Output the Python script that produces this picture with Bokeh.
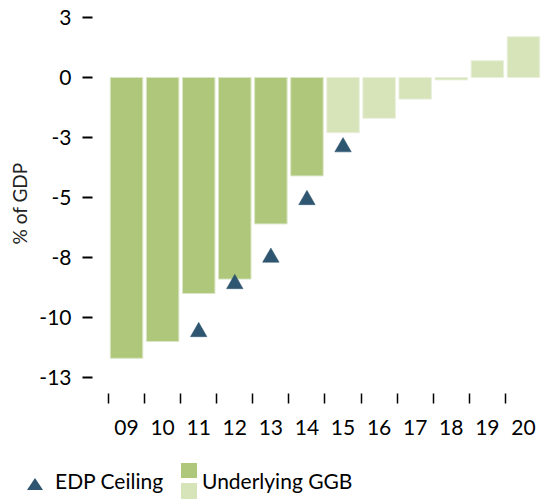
from bokeh.plotting import figure
from bokeh.models import Range1d, FixedTicker, ColumnDataSource, Div
from bokeh.layouts import column
from bokeh.embed import file_html
from bokeh.resources import INLINE

# ---- data ----
years = ["09", "10", "11", "12", "13", "14", "15", "16", "17", "18", "19", "20"]
ggb = [-11.7, -11.0, -9.0, -8.4, -6.1, -4.1, -2.3, -1.7, -0.9, -0.1, 0.7, 1.7]
ggb_outturn = [True, True, True, True, True, True, False, False, False, False, False, False]
edp_years = ["11", "12", "13", "14", "15"]
edp_ceiling = [-10.6, -8.6, -7.5, -5.1, -2.9]
y_ticks = [2.5, 0, -2.5, -5, -7.5, -10, -12.5]
y_tick_labels = ["3", "0", "-3", "-5", "-8", "-10", "-13"]
legend_labels = ["EDP Ceiling", "Underlying GGB"]

DARK = "#aec77a"
LIGHT = "#d7e3b9"
DARK_EDGE = "#dbe6c6"
LIGHT_EDGE = "#e9f0dc"
NAVY = "#2e5670"
FONT = "Lato"

xc = [i + 0.5 for i in range(len(years))]
src = ColumnDataSource(dict(
    x=xc, top=ggb,
    fill=[DARK if a else LIGHT for a in ggb_outturn],
    edge=[DARK_EDGE if a else LIGHT_EDGE for a in ggb_outturn],
))
edp_src = ColumnDataSource(dict(x=[years.index(y) + 0.5 for y in edp_years], y=edp_ceiling))

p = figure(width=541, height=443, output_backend="svg", toolbar_location=None,
           x_range=Range1d(-0.443, 12.0), y_range=Range1d(-13.167, 2.667),
           min_border_left=92, min_border_right=0, min_border_top=13, min_border_bottom=50)
p.outline_line_color = None
p.xgrid.visible = False
p.ygrid.visible = False

p.vbar(x="x", top="top", bottom=0, width=0.9, fill_color="fill", line_color="edge",
       line_width=1, source=src)
p.scatter(x="x", y="y", marker="triangle", size=16.5, fill_color=NAVY, line_color=NAVY,
          line_width=0.5, source=edp_src)

# y axis
p.yaxis.ticker = FixedTicker(ticks=y_ticks)
p.yaxis.major_label_overrides = {t: l for t, l in zip(y_ticks, y_tick_labels)}
p.yaxis.axis_line_color = None
p.yaxis.major_tick_in = 0
p.yaxis.major_tick_out = 10
p.yaxis.major_tick_line_width = 2
p.yaxis.major_tick_line_color = "black"
p.yaxis.minor_tick_line_color = None
p.yaxis.major_label_standoff = 11
p.yaxis.major_label_text_font = FONT
p.yaxis.major_label_text_font_size = "21px"
p.yaxis.major_label_text_color = "black"
p.yaxis.axis_label = "% of GDP"
p.yaxis.axis_label_text_font = FONT
p.yaxis.axis_label_text_font_style = "normal"
p.yaxis.axis_label_text_font_size = "19px"
p.yaxis.axis_label_text_color = "#222222"
p.yaxis.axis_label_standoff = 5

# x axis: labels at category centres, ticks at category boundaries
p.xaxis.ticker = FixedTicker(ticks=xc, minor_ticks=list(range(len(years))))
p.xaxis.major_label_overrides = {x: y for x, y in zip(xc, years)}
p.xaxis.axis_line_color = None
p.xaxis.major_tick_line_color = None
p.xaxis.major_tick_in = 0
p.xaxis.major_tick_out = 0
p.xaxis.minor_tick_in = 0
p.xaxis.minor_tick_out = 10
p.xaxis.minor_tick_line_color = "black"
p.xaxis.minor_tick_line_width = 1.5
p.xaxis.major_label_standoff = 16
p.xaxis.major_label_text_font = FONT
p.xaxis.major_label_text_font_size = "21px"
p.xaxis.major_label_text_color = "black"

# ---- legend strip (HTML) ----
legend_html = (
    f'<div style="position:relative;width:541px;height:56px;overflow:hidden;'
    f'font-family:{FONT};font-size:21px;line-height:21px;color:#000;white-space:nowrap;">'
    f'<div style="position:absolute;left:27px;top:35px;width:0;height:0;'
    f'border-left:8px solid transparent;border-right:8px solid transparent;'
    f'border-bottom:12px solid {NAVY};"></div>'
    f'<span style="position:absolute;left:55px;top:27px;">{legend_labels[0]}</span>'
    f'<div style="position:absolute;left:181px;top:20px;width:16px;height:15px;'
    f'background:{DARK};"></div>'
    f'<div style="position:absolute;left:181px;top:40px;width:16px;height:16px;'
    f'background:{LIGHT};"></div>'
    f'<span style="position:absolute;left:202px;top:27px;">{legend_labels[1]}</span>'
    f'</div>'
)
legend = Div(text=legend_html, width=541, height=56, margin=0)

layout = column(p, legend, spacing=0)
open("out.html", "w").write(file_html(layout, INLINE))
